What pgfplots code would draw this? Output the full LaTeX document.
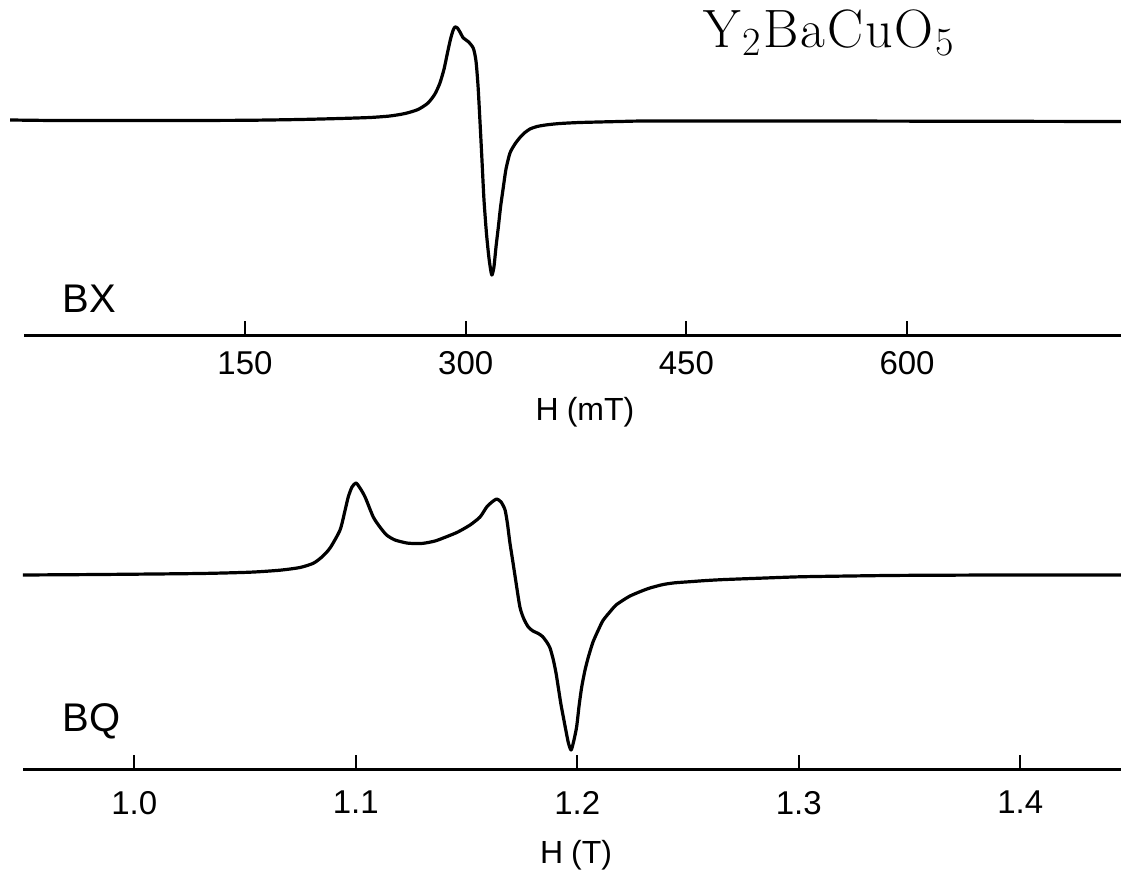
\documentclass[border=0pt]{standalone}
\usepackage{fontspec}
\usepackage{pgfplots}
\pgfplotsset{compat=1.18}
\newfontfamily\plotfont{Liberation Sans}

% EPR derivative spectra of Y2BaCuO5 at X band (top) and Q band (bottom)
\pgfplotsset{
  epraxis/.style={
    scale only axis,
    clip=false,
    axis x line=bottom,
    axis y line=none,
    axis line style={-, line width=1.5pt},
    xtick align=inside,
    major tick length=7.5pt,
    major tick style={line width=0.9pt, black},
    xticklabel style={font=\plotfont\fontsize{16.5}{19}\selectfont},
    /pgf/number format/assume math mode=true,
  },
  eprline/.style={black, line width=1.6pt, no marks, smooth, tension=0.4, line join=round},
}

\begin{document}
\begin{tikzpicture}
\useasboundingbox (0,0) rectangle (560.5pt,434.5pt);

% ---- X band, field in mT ----
\begin{axis}[epraxis,
  at={(12.15pt,266.5pt)}, anchor=south west,
  width=548.35pt, height=168pt,
  xmin=0, xmax=745.4, ymin=-215, ymax=121,
  xtick={150,300,450,600},
  xticklabel style={yshift=-4pt},
]
\addplot[eprline] coordinates {
(-9.7,1) (20,0.5) (51.5,0.5) (100,0.5) (150,0.7) (187.4,1.5) (214.6,2.5)
(235.0,3.5) (248.5,5) (258.8,7.5) (267.6,11.5) (274.4,18) (279.1,27)
(282.5,38) (285.3,52) (287.6,68) (289.7,82) (291.4,90.5) (292.7,94)
(294.4,93) (296.1,89) (298.4,83) (301.8,79.3) (305.2,72.7) (307.0,60)
(308.4,35) (309.7,0) (311.1,-40) (312.4,-78) (314.1,-112) (315.9,-138)
(317.7,-154) (319.2,-146) (320.6,-126) (322.2,-106) (323.7,-86)
(325.6,-66) (327.4,-48) (330.1,-32) (333.5,-23) (336.9,-16.5)
(340.3,-11.5) (343.7,-8) (348.5,-5.5) (355.3,-3.8) (364.1,-2.5)
(377.7,-1.5) (404.9,-0.5) (425.2,0) (527.2,0) (663.2,-0.3) (745.4,-0.5)
};
\end{axis}

% ---- Q band, field in T ----
\begin{axis}[epraxis,
  at={(11.75pt,49.5pt)}, anchor=south west,
  width=548.75pt, height=165pt,
  xmin=0.95, xmax=1.44546, ymin=-194, ymax=136,
  xtick={1.0,1.1,1.2,1.3,1.4},
  xticklabels={1.0,1.1,1.2,1.3,1.4},
  xticklabel style={yshift=-7pt},
]
\addplot[eprline] coordinates {
(0.9497,1) (0.9845,1.5) (1.0297,2.5) (1.0523,3.8) (1.0658,5.8) (1.0748,8.5)
(1.0808,12.7) (1.0847,19) (1.0884,28) (1.0929,46) (1.0951,65) (1.0966,79)
(1.0983,89) (1.1001,93) (1.1019,88) (1.1042,79) (1.1079,59) (1.1109,49)
(1.1139,41) (1.1177,36) (1.1230,33) (1.1267,32.5) (1.1305,32.7) (1.1358,35)
(1.1410,39.3) (1.1461,44) (1.1516,51) (1.1561,59) (1.1591,69) (1.1615,74)
(1.1636,77) (1.1656,74) (1.1674,66) (1.1685,52) (1.1696,33) (1.1708,16)
(1.1719,0) (1.1741,-31) (1.1759,-43) (1.1779,-51) (1.1800,-55) (1.1824,-57.5)
(1.1843,-60.5) (1.1862,-66) (1.1877,-72) (1.1892,-84) (1.1904,-97)
(1.1914,-111) (1.1926,-128) (1.1937,-141) (1.1949,-155) (1.1960,-167)
(1.1972,-174) (1.1983,-166) (1.1997,-151) (1.2008,-130) (1.2020,-111)
(1.2035,-94) (1.2050,-81) (1.2071,-66) (1.2095,-54) (1.2116,-44.5)
(1.2148,-35.7) (1.2175,-29) (1.2208,-24) (1.2238,-20) (1.2283,-15.7)
(1.2328,-12) (1.2388,-8.5) (1.2441,-6.8) (1.2509,-5.7) (1.2577,-4.6)
(1.2659,-3.6) (1.2825,-2.2) (1.3005,-0.8) (1.3231,0) (1.3457,0.6)
(1.3908,1) (1.4179,1) (1.4455,1)
};
\end{axis}

% ---- labels ----
\node[anchor=base west, inner sep=0pt, font=\fontsize{27}{32}\selectfont]
  at (351.5pt,410.5pt)
  {Y\kern1pt\raisebox{-4pt}{\fontsize{20}{20}\selectfont 2}\kern1pt B\kern1pt a\kern1pt C\kern1pt u\kern1pt O\kern1pt\raisebox{-4pt}{\fontsize{20}{20}\selectfont 5}};
\node[anchor=base west, inner sep=0pt, font=\plotfont\fontsize{20}{24}\selectfont]
  at (31pt,278pt) {BX};
\node[anchor=base west, inner sep=0pt, font=\plotfont\fontsize{20}{24}\selectfont]
  at (31pt,68.5pt) {BQ};
\node[anchor=base, inner sep=0pt, font=\plotfont\fontsize{16}{19}\selectfont]
  at (292.5pt,224pt) {H\kern4pt(mT)};
\node[anchor=base, inner sep=0pt, font=\plotfont\fontsize{16}{19}\selectfont]
  at (288pt,2.5pt) {H\kern4pt(T)};
\end{tikzpicture}
\end{document}
